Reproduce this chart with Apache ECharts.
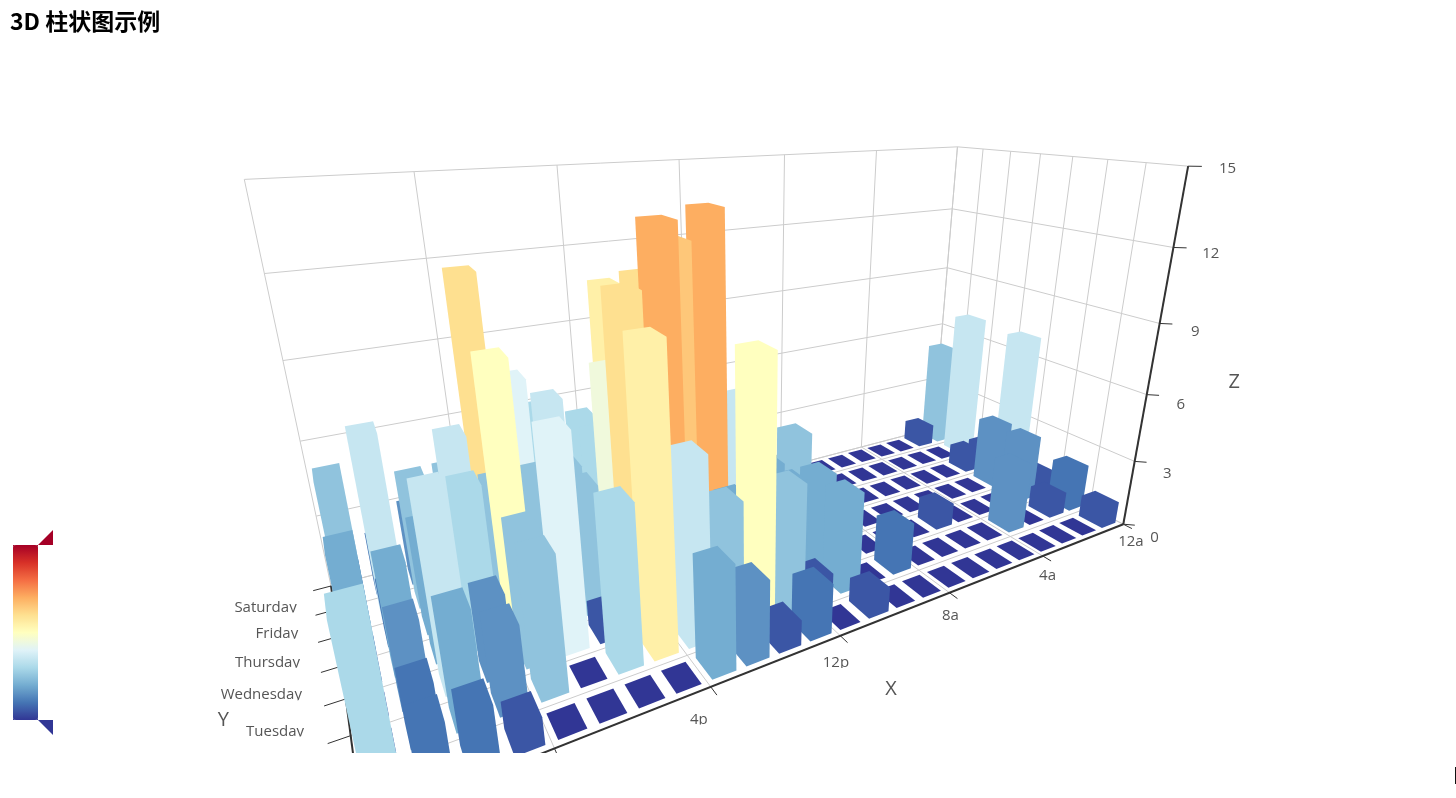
<!DOCTYPE html>
<html><head><meta charset="utf-8">
<style>html,body{margin:0;padding:0;background:#fff;overflow:hidden}
#chart{width:1456px;height:753px}
#edge{position:absolute;left:1455px;top:767px;width:1px;height:17px;background:#111}</style>
<script src="https://cdn.jsdelivr.net/npm/echarts@6/dist/echarts.min.js"></script>
</head><body>
<div id="chart"></div><div id="edge"></div>
<script>
const hours=['12a','1a','2a','3a','4a','5a','6a','7a','8a','9a','10a','11a','12p','1p','2p','3p','4p','5p','6p','7p','8p','9p','10p','11p'];
const days=['Saturday','Friday','Thursday','Wednesday','Tuesday','Monday','Sunday'];
const saturday =[5,1,0,0,0,0,0,0,0,0,0,2,4,1,1,3,4,6,4,4,3,3,2,5];
const friday   =[7,0,0,0,0,0,0,0,0,0,5,2,2,6,9,11,6,7,8,12,5,5,7,2];
const thursday =[1,1,0,0,0,0,0,0,0,0,3,2,1,9,8,10,6,5,5,5,7,4,2,4];
const wednesday=[7,3,0,0,0,0,0,0,1,0,5,4,7,14,13,12,9,5,5,10,6,4,4,1];
const tuesday  =[1,3,0,0,0,1,0,0,0,2,4,4,2,4,4,14,12,1,8,5,3,7,3,0];
const monday   =[2,1,0,3,0,0,0,0,2,0,4,1,5,10,5,7,11,6,0,5,3,4,2,0];
const sunday   =[1,0,0,0,0,0,0,0,0,0,1,0,2,1,3,4,0,0,0,0,1,2,2,6];
const dayValues=[saturday,friday,thursday,wednesday,tuesday,monday,sunday];
const zTicks=[0,3,6,9,12,15];
const paletteColors=['#313695','#4575b4','#74add1','#abd9e9','#e0f3f8','#ffffbf','#fee090','#fdae61','#f46d43','#d73027','#a50026'];

// camera of the 3D box
const cam={alpha:.3493,beta:.522,dist:198.27,focal:796.74,cx:753.4,cy:379.1,boxW:200,boxD:80,boxH:100.1};
const barRatio=.7, zMax=15;
const ca=Math.cos(cam.alpha),sa=Math.sin(cam.alpha),cb=Math.cos(cam.beta),sb=Math.sin(cam.beta);
const F=[-ca*sb,-ca*cb,-sa],Rt=[-cb,sb,0];
const Up=[Rt[1]*F[2]-Rt[2]*F[1],Rt[2]*F[0]-Rt[0]*F[2],Rt[0]*F[1]-Rt[1]*F[0]];
const lm=echarts.number.linearMap;
const dot=(a,b)=>a[0]*b[0]+a[1]*b[1]+a[2]*b[2];
function world(u,v,w){return [cam.boxW*(u-.5),cam.boxD*(v-.5),cam.boxH*(w-.5)];}
function project(P){const dep=cam.dist+dot(P,F);return [cam.cx+cam.focal*dot(P,Rt)/dep,cam.cy-cam.focal*dot(P,Up)/dep];}
const pt=(u,v,w)=>project(world(u,v,w));
const uOf=h=>lm(h,[-.5,hours.length-.5],[0,1]);
const vOf=d=>lm(d,[-.5,days.length-.5],[0,1]);
const wOf=z=>lm(z,[0,zMax],[0,1]);
function hull(ps){ps=ps.slice().sort((a,b)=>a[0]-b[0]||a[1]-b[1]);
 const cr=(o,a,b)=>(a[0]-o[0])*(b[1]-o[1])-(a[1]-o[1])*(b[0]-o[0]);
 const lo=[],up=[];for(const p of ps){while(lo.length>1&&cr(lo[lo.length-2],lo[lo.length-1],p)<=0)lo.pop();lo.push(p);}
 for(const p of ps.reverse()){while(up.length>1&&cr(up[up.length-2],up[up.length-1],p)<=0)up.pop();up.push(p);}
 lo.pop();up.pop();return lo.concat(up);}

const rows=[];dayValues.forEach((vals,d)=>vals.forEach((val,h)=>rows.push([h,d,val])));
const depthOf=r=>dot(world(uOf(r[0]),vOf(r[1]),0),F);
rows.sort((a,b)=>depthOf(b)-depthOf(a));

function renderBar(params,api){
 const h=api.value(0),d=api.value(1),val=api.value(2);
 const u=uOf(h),v=vOf(d),du=barRatio/hours.length/2,dv=barRatio/days.length/2,w=wOf(val);
 const ps=[];for(const a of[-1,1])for(const b of[-1,1])for(const c of[0,w])ps.push(pt(u+a*du,v+b*dv,c));
 return {type:'polygon',shape:{points:hull(ps)},style:{fill:api.visual('color')},silent:true};
}
const GRID='#ccc',AXIS='#333',TXT='#555',FONT='"Open Sans","Noto Sans",sans-serif';
function line(a,b,stroke,lw){return {type:'line',shape:{x1:a[0],y1:a[1],x2:b[0],y2:b[1]},style:{stroke,lineWidth:lw},silent:true};}
function label(p,text,align,size,cut){const el={type:'text',x:p[0],y:p[1],silent:true,style:{text,fill:TXT,font:size+'px '+FONT,align,verticalAlign:'middle'}};
 if(cut){el.clipPath={type:'rect',shape:{x:-200,y:-30,width:400,height:30+cut}};}return el;}
function renderFrame(){
 const c=[];
 const uTicks=[0,4,8,12,16,20,24].map(k=>k/hours.length);
 const vTicks=[0,1,2,3,4,5,6,7].map(k=>k/days.length);
 uTicks.forEach(u=>c.push(line(pt(u,0,0),pt(u,1,0),GRID,1)));
 vTicks.forEach(v=>c.push(line(pt(0,v,0),pt(1,v,0),GRID,1)));
 uTicks.forEach(u=>c.push(line(pt(u,0,0),pt(u,0,1),GRID,1)));
 vTicks.forEach(v=>c.push(line(pt(0,v,0),pt(0,v,1),GRID,1)));
 zTicks.forEach(z=>{const w=wOf(z);c.push(line(pt(0,0,w),pt(1,0,w),GRID,1));c.push(line(pt(0,0,w),pt(0,1,w),GRID,1));});
 c.push(line(pt(0,1,0),pt(1,1,0),AXIS,2),line(pt(1,0,0),pt(1,1,0),AXIS,2),line(pt(0,1,0),pt(0,1,1),AXIS,2));
 uTicks.forEach(u=>c.push(line(pt(u,1,0),pt(u,1.035,0),AXIS,1)));
 vTicks.forEach(v=>c.push(line(pt(1,v,0),pt(1.02,v,0),AXIS,1)));
 zTicks.forEach(z=>c.push(line(pt(0,1,wOf(z)),pt(-.012,1.025,wOf(z)),AXIS,1)));
 [0,4,8,12,16,20].forEach(h=>c.push(label(pt((h+.75)/24,1.088,0),hours[h],'center',15,5)));
 days.forEach((name,d)=>c.push(label(pt(1.039,vOf(d),0),name,'right',15,5)));
 zTicks.forEach(z=>c.push(label(pt(-.0045,1.116,wOf(z)),String(z),'center',15)));
 c.push(label(pt(.505,1.243,0),'X','center',20));
 c.push(label(pt(1.108,.5,0),'Y','center',20));
 c.push(label(pt(-.007,1.263,.5),'Z','center',20));
 return {type:'group',children:c,silent:true};
}
const chart=echarts.init(document.getElementById('chart'));
chart.setOption({
 animation:false,
 title:{text:'3D 柱状图示例',left:5,top:5,textStyle:{fontSize:23,fontWeight:'bold',color:'#000',fontFamily:'"Noto Sans CJK SC","Noto Sans",sans-serif'}},
 visualMap:{type:'continuous',seriesIndex:1,dimension:2,min:0,max:20,calculable:false,show:true,left:-2,top:530,itemWidth:25,itemHeight:175,text:['',''],showLabel:false,inRange:{color:paletteColors},textStyle:{fontSize:0}},
 graphic:[
  {type:'rect',shape:{x:13,y:545,width:25,height:3},style:{fill:'#a50026'},silent:true},
  {type:'rect',shape:{x:13,y:717,width:25,height:3},style:{fill:'#313695'},silent:true},
  {type:'polygon',shape:{points:[[38,545],[53,545],[53,530]]},style:{fill:'#a50026'},silent:true},
  {type:'polygon',shape:{points:[[38,720],[53,720],[53,735]]},style:{fill:'#313695'},silent:true}
 ],
 series:[
  {type:'custom',coordinateSystem:'none',silent:true,data:[[0]],renderItem:renderFrame,z:1},
  {type:'custom',coordinateSystem:'none',silent:true,dimensions:['hour','day','value'],data:rows,renderItem:renderBar,z:2}
 ]
});
</script></body></html>
